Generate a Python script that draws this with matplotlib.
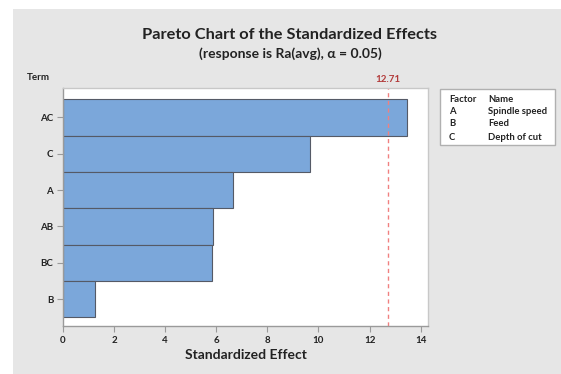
import matplotlib
matplotlib.use("Agg")
import matplotlib.pyplot as plt
from matplotlib.patches import Rectangle

plt.rcParams['font.family'] = ['Lato', 'DejaVu Sans']

terms = ['AC', 'C', 'A', 'AB', 'BC', 'B']
effects = [13.45, 9.66, 6.66, 5.89, 5.84, 1.24]
critical = 12.71
factors = ['A', 'B', 'C']
factor_names = ['Spindle speed', 'Feed', 'Depth of cut']
xticks = [0, 2, 4, 6, 8, 10, 12, 14]

W, H = 561, 374
fig = plt.figure(figsize=(W / 100, H / 100), dpi=100, facecolor='white')

# grey panel behind everything
fig.patches.append(Rectangle((13 / W, 0), 1, 1 - 9 / H, transform=fig.transFigure,
                             facecolor='#e6e6e6', edgecolor='none', zorder=-5))

ax = fig.add_axes([63 / W, (H - 326) / H, (428 - 63) / W, (326 - 88) / H])
ax.set_facecolor('white')

ypos = list(range(len(terms)))
ax.barh(ypos, effects, height=1.0, color='#7ba7da', edgecolor='#555a66', linewidth=0.8)
ax.axvline(critical, color='#f08080', linestyle=(0, (3, 2.5)), linewidth=1.0)

ax.set_xlim(0, 14.29)
ax.set_ylim(5.74, -0.81)
ax.set_yticks(ypos)
ax.set_yticklabels(terms, fontsize=7, fontweight='bold', color='#222222')
ax.set_xticks(xticks)
ax.set_xticklabels([str(t) for t in xticks], fontsize=7, fontweight='bold', color='#222222')
ax.tick_params(axis='both', length=4, width=0.8, color='#9a9a9a', pad=3)
for s in ax.spines.values():
    s.set_color('#c8c8c8')
    s.set_linewidth(1.0)
ax.spines['left'].set_color('#9a9a9a')
ax.spines['bottom'].set_color('#9a9a9a')

ax.text(critical, 1.015, f'{critical:.2f}', transform=ax.get_xaxis_transform(),
        ha='center', va='bottom', fontsize=7, fontweight='bold', color='#b23a3a')

ax.set_xlabel('Standardized Effect', fontsize=10, fontweight='bold', color='#222222', labelpad=3)

fig.text(289 / W, 1 - 35 / H, 'Pareto Chart of the Standardized Effects',
         ha='center', va='center', fontsize=11.8, fontweight='bold', color='#222222')
fig.text(290 / W, 1 - 54 / H, '(response is Ra(avg), \u03b1 = 0.05)',
         ha='center', va='center', fontsize=10, fontweight='bold', color='#222222')
fig.text(27 / W, 1 - 78 / H, 'Term', ha='left', va='center',
         fontsize=7, fontweight='bold', color='#222222')

# factor key box
fig.patches.append(Rectangle((440 / W, 1 - 145 / H), (555 - 440) / W, (145 - 89) / H,
                             transform=fig.transFigure, facecolor='white',
                             edgecolor='#b0b0b0', linewidth=1.0, zorder=1))
rows_y = [100, 111, 124, 137]
key_style = dict(ha='left', va='center', fontsize=6.8, fontweight='bold',
                 color='#222222', zorder=2)
fig.text(449 / W, 1 - rows_y[0] / H, 'Factor', **key_style)
fig.text(488 / W, 1 - rows_y[0] / H, 'Name', **key_style)
for f, n, yy in zip(factors, factor_names, rows_y[1:]):
    fig.text(449 / W, 1 - yy / H, f, **key_style)
    fig.text(488 / W, 1 - yy / H, n, **key_style)

fig.savefig('out.png', dpi=100, facecolor=fig.get_facecolor())
